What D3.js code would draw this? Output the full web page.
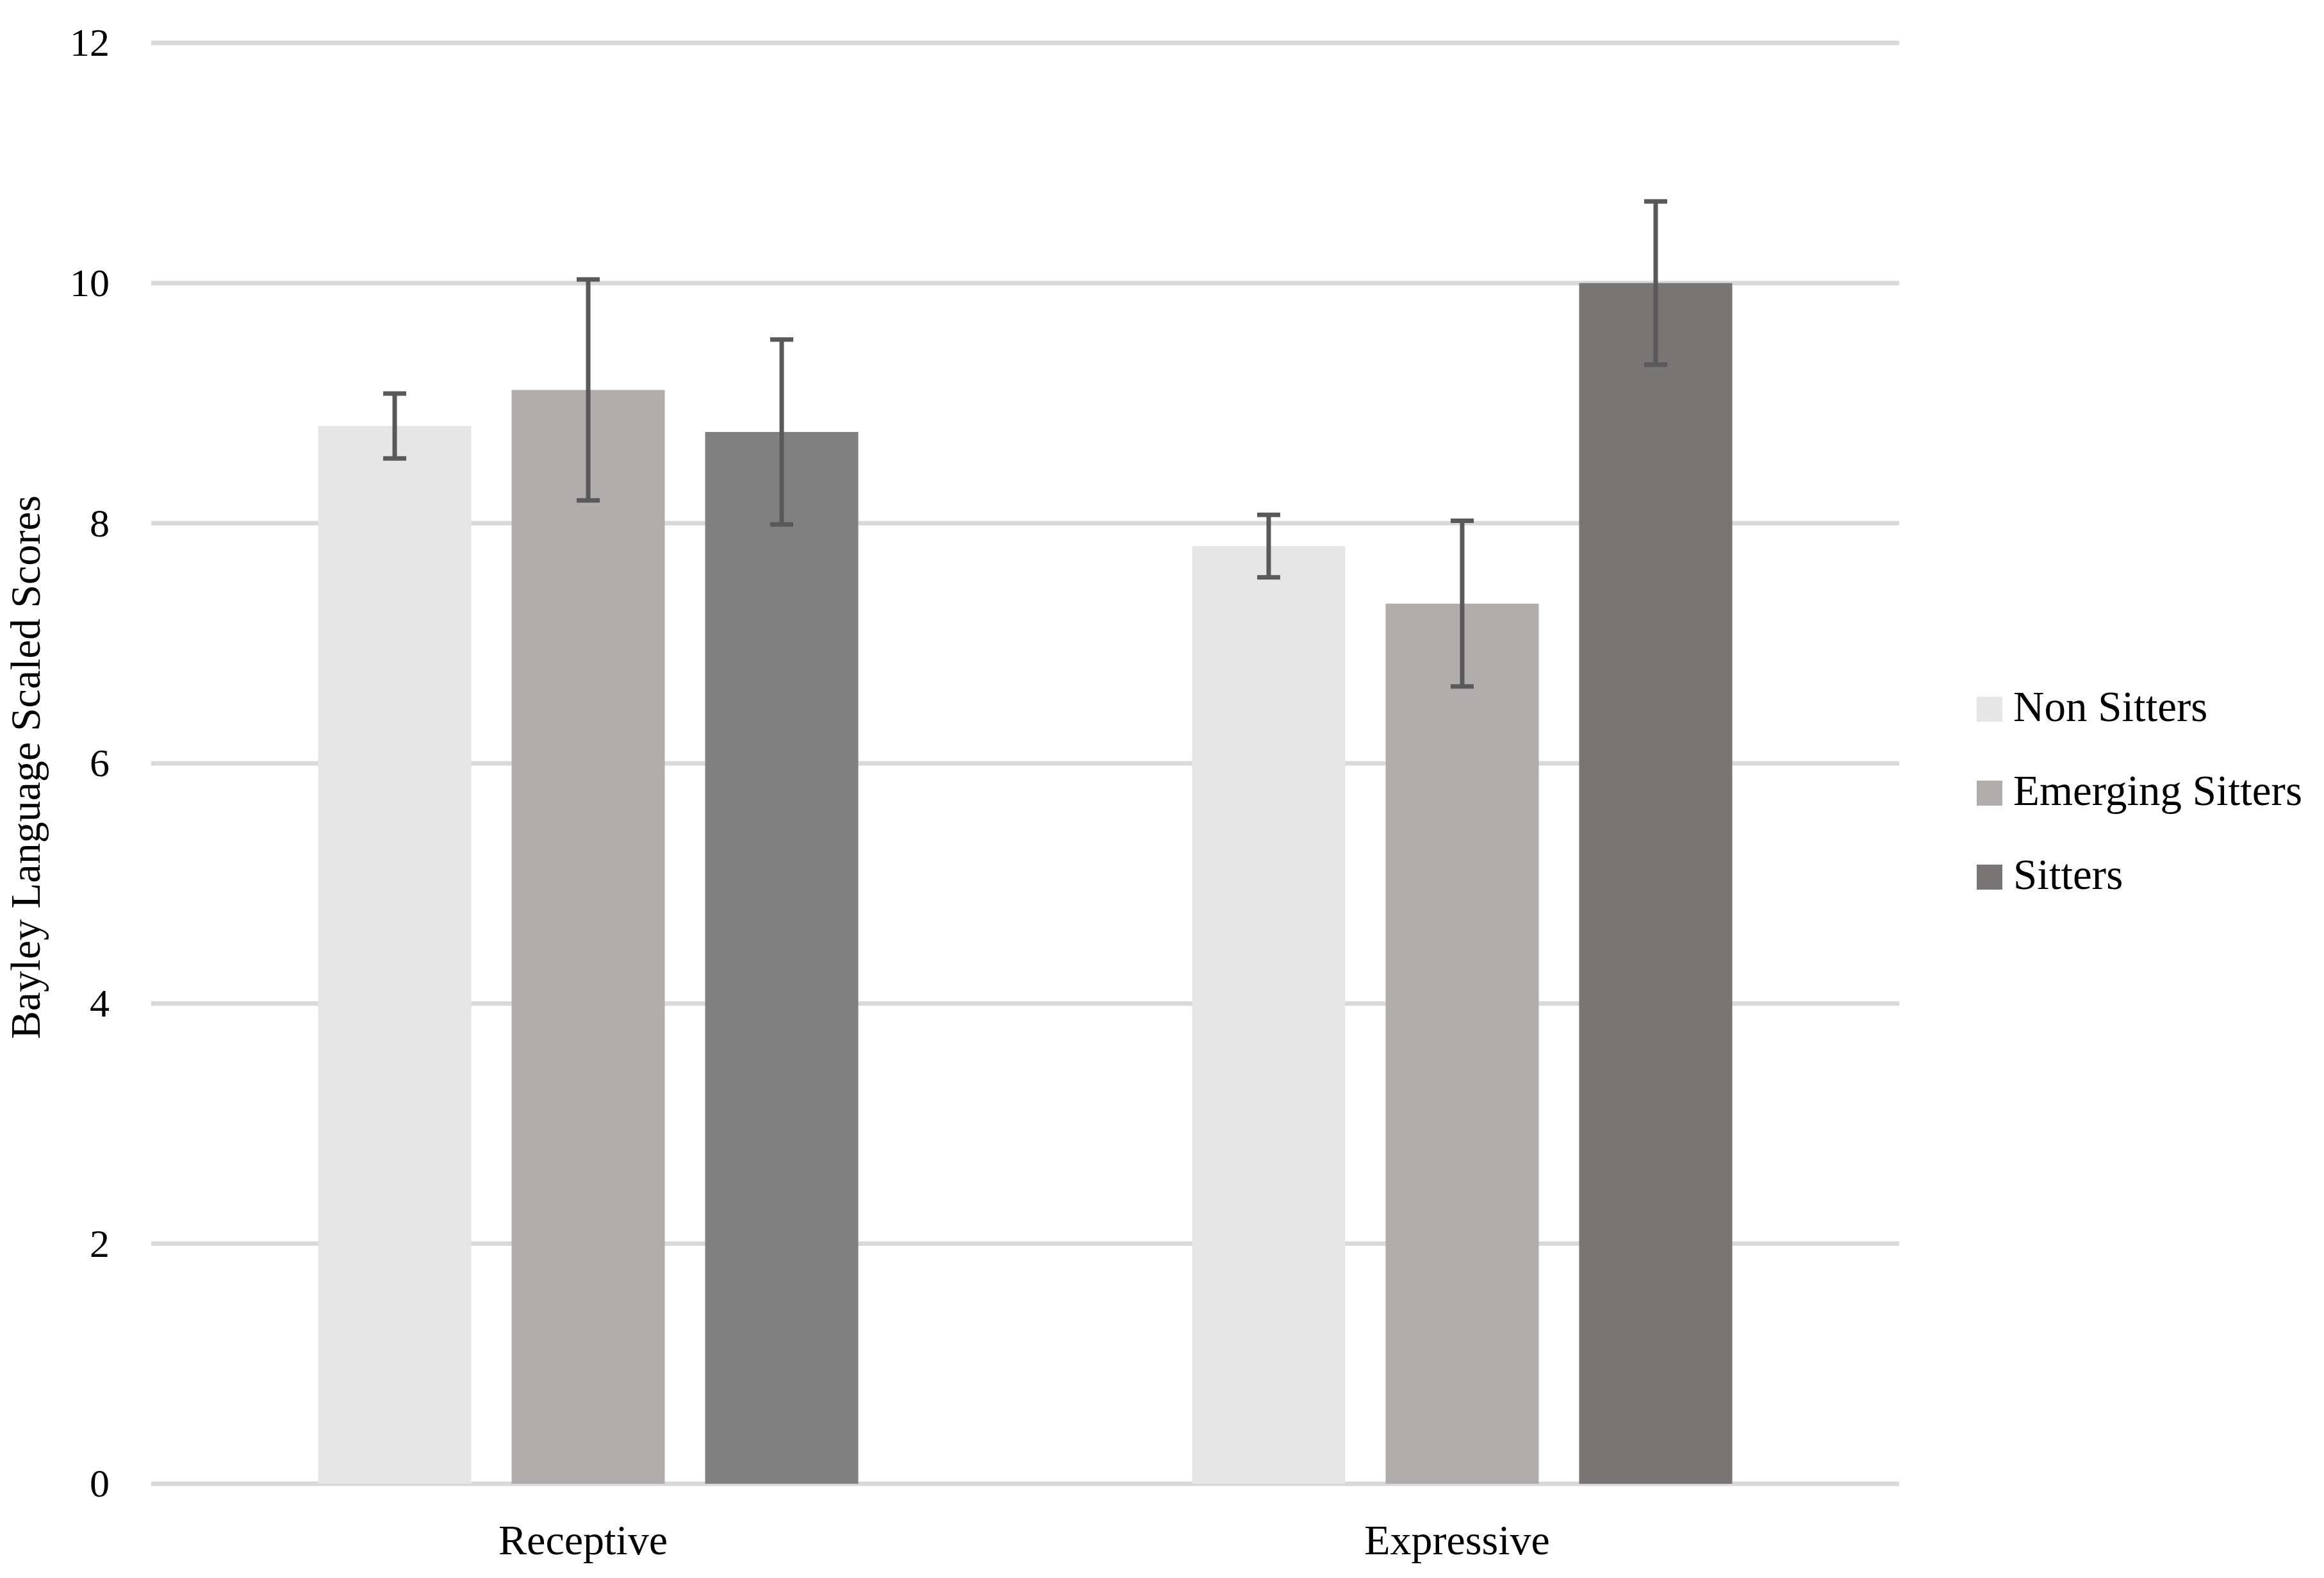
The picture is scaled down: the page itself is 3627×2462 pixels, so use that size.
<!DOCTYPE html>
<html>
<head>
<meta charset="utf-8">
<script src="https://cdn.jsdelivr.net/npm/d3@7"></script>
<style>
  html, body { margin: 0; padding: 0; background: #ffffff; }
  svg { display: block; }
  text { font-family: "Palatino Linotype", "Book Antiqua", Palatino, "Liberation Serif", "DejaVu Serif", serif; fill: #000; }
</style>
</head>
<body>
<script>
// ---- data ----
const categories = ["Receptive", "Expressive"];
const seriesNames = ["Non Sitters", "Emerging Sitters", "Sitters"];
const nonSitters = [8.81, 7.81];
const emergingSitters = [9.11, 7.33];
const sitters = [8.76, 10.0];
const nonSittersErr = [0.27, 0.26];
const emergingSittersErr = [0.92, 0.69];
const sittersErr = [0.77, 0.68];
const yTicks = [0, 2, 4, 6, 8, 10, 12];
const yTitle = "Bayley Language Scaled Scores";

// ---- style ----
const seriesColors = ["#e6e6e6", "#b0adac", "#7a7575"];
// colour per point (Receptive Sitters bar is drawn in a slightly different grey)
const pointColors = [["#e6e6e6", "#b0adac", "#808080"], ["#e6e6e6", "#b0adac", "#7a7575"]];

const W = 3627, H = 2462;
const plot = { left: 236, right: 2964, top: 67, bottom: 2315 };

const values = [nonSitters, emergingSitters, sitters];
const errs = [nonSittersErr, emergingSittersErr, sittersErr];
const rows = [];
categories.forEach((c, ci) => {
  seriesNames.forEach((s, si) => {
    rows.push({ cat: c, ci, series: s, si, v: values[si][ci], e: errs[si][ci] });
  });
});

const svg = d3.select("body").append("svg").attr("width", W).attr("height", H);

const y = d3.scaleLinear().domain([0, 12]).range([plot.bottom, plot.top]);
const x0 = d3.scaleBand().domain(categories).range([plot.left, plot.right]).padding(0);
const bw = x0.bandwidth();
const groupW = 843;
const x1 = d3.scaleBand().domain(seriesNames)
  .range([(bw - groupW) / 2, (bw + groupW) / 2])
  .paddingInner(0.2086).paddingOuter(0);

// gridlines
const grid = svg.append("g");
grid.selectAll("line").data(yTicks).enter().append("line")
  .attr("x1", plot.left).attr("x2", plot.right)
  .attr("y1", d => y(d)).attr("y2", d => y(d))
  .attr("stroke", "#d9d9d9").attr("stroke-width", 7);

// y axis tick labels via d3 axis
const yAxis = d3.axisLeft(y).tickValues(yTicks).tickSize(0).tickPadding(0).tickFormat(d3.format("d"));
const yg = svg.append("g").attr("transform", `translate(${plot.left - 65},0)`).call(yAxis);
yg.select(".domain").remove();
yg.selectAll("text").attr("font-size", 62).attr("fill", "#000")
  .style("font-family", '"Palatino Linotype","Book Antiqua",Palatino,"Liberation Serif",serif')
  .attr("dy", "0.32em");

// bars
svg.append("g").selectAll("rect").data(rows).enter().append("rect")
  .attr("x", d => x0(d.cat) + x1(d.series))
  .attr("width", x1.bandwidth())
  .attr("y", d => y(d.v))
  .attr("height", d => y(0) - y(d.v))
  .attr("fill", d => pointColors[d.ci][d.si]);

// error bars
const eb = svg.append("g").attr("stroke", "#595959").attr("stroke-width", 7);
rows.forEach(d => {
  const cx = x0(d.cat) + x1(d.series) + x1.bandwidth() / 2;
  const yt = y(d.v + d.e), yb = y(d.v - d.e);
  eb.append("line").attr("x1", cx).attr("x2", cx).attr("y1", yt).attr("y2", yb);
  eb.append("line").attr("x1", cx - 18).attr("x2", cx + 18).attr("y1", yt).attr("y2", yt);
  eb.append("line").attr("x1", cx - 18).attr("x2", cx + 18).attr("y1", yb).attr("y2", yb);
});

// x axis labels
const xAxis = d3.axisBottom(x0).tickSize(0).tickPadding(0);
const xg = svg.append("g").attr("transform", `translate(-8,2425)`).call(xAxis);
xg.select(".domain").remove();
xg.selectAll("text").attr("font-size", 66).attr("fill", "#000").attr("dy", 0)
  .style("font-family", '"Palatino Linotype","Book Antiqua",Palatino,"Liberation Serif",serif');

// y title
svg.append("text")
  .attr("transform", `translate(62,1197) rotate(-90)`)
  .attr("text-anchor", "middle")
  .attr("font-size", 66)
  .text(yTitle);

// legend
const lg = svg.append("g").attr("transform", "translate(3085,1087)");
const li = lg.selectAll("g").data(seriesNames).enter().append("g")
  .attr("transform", (d, i) => `translate(0,${i * 131})`);
li.append("rect").attr("width", 40).attr("height", 39).attr("fill", (d, i) => seriesColors[i]);
li.append("text").attr("x", 57).attr("y", 38).attr("font-size", 67).text(d => d);
</script>
</body>
</html>
